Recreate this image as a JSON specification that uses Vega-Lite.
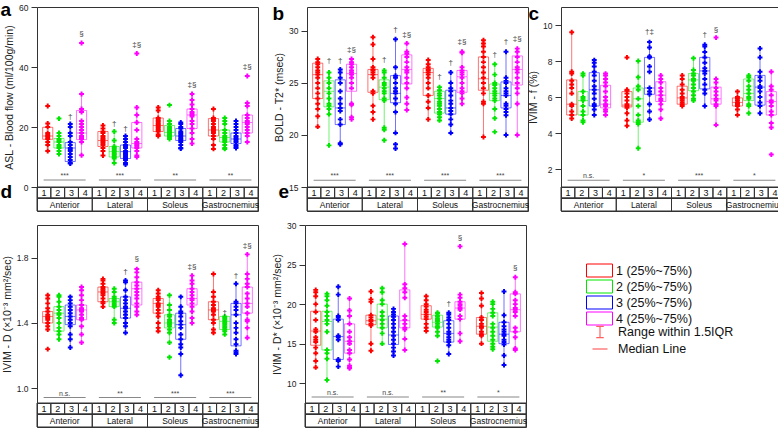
{
"$schema": "https://vega.github.io/schema/vega-lite/v6.json",
"padding": {"left": 0, "top": 0, "right": 0, "bottom": 0},
"config": {
  "font": "Liberation Sans",
  "view": {"stroke": "#333", "strokeWidth": 1},
  "axis": {"grid": false, "domain": false, "tickSize": 6, "tickColor": "#333", "labelFontSize": 8.5, "labelColor": "#222", "titleFontSize": 10.5, "titleFontWeight": "normal", "titleColor": "#222", "labelPadding": 3, "titlePadding": 4, "labelOverlap": false},
  "title": {"fontSize": 19, "fontWeight": "bold", "anchor": "start", "frame": "bounds", "color": "#000", "offset": -17}
},
"datasets": {
  "muscles": [{"m":"A","name":"Anterior"},{"m":"L","name":"Lateral"},{"m":"S","name":"Soleus"},{"m":"G","name":"Gastrocnemius"}],
  "cells": [{"m":"A","g":1,"k":"A1"},{"m":"A","g":2,"k":"A2"},{"m":"A","g":3,"k":"A3"},{"m":"A","g":4,"k":"A4"},{"m":"L","g":1,"k":"L1"},{"m":"L","g":2,"k":"L2"},{"m":"L","g":3,"k":"L3"},{"m":"L","g":4,"k":"L4"},{"m":"S","g":1,"k":"S1"},{"m":"S","g":2,"k":"S2"},{"m":"S","g":3,"k":"S3"},{"m":"S","g":4,"k":"S4"},{"m":"G","g":1,"k":"G1"},{"m":"G","g":2,"k":"G2"},{"m":"G","g":3,"k":"G3"},{"m":"G","g":4,"k":"G4"}],
  "box_a": [
    {"m":"A","g":1,"lo":12,"q1":15.9,"med":17,"q3":19.9,"hi":21.2},{"m":"A","g":2,"lo":11,"q1":13,"med":15,"q3":16.2,"hi":18},{"m":"A","g":3,"lo":7.8,"q1":8.5,"med":13,"q3":14.8,"hi":21},{"m":"A","g":4,"lo":10.6,"q1":15.8,"med":18,"q3":25.5,"hi":31},
    {"m":"L","g":1,"lo":10.5,"q1":13.5,"med":15.5,"q3":18.5,"hi":20.5},{"m":"L","g":2,"lo":8,"q1":10,"med":11.8,"q3":13.5,"hi":18.5},{"m":"L","g":3,"lo":7.5,"q1":9.5,"med":11.8,"q3":14,"hi":17},{"m":"L","g":4,"lo":10,"q1":13,"med":14.5,"q3":21.5,"hi":26.5},
    {"m":"S","g":1,"lo":17,"q1":18.5,"med":20.5,"q3":23,"hi":26.5},{"m":"S","g":2,"lo":16,"q1":17,"med":18.2,"q3":20.5,"hi":22},{"m":"S","g":3,"lo":12.8,"q1":15.5,"med":17,"q3":19.5,"hi":21.5},{"m":"S","g":4,"lo":14.5,"q1":19.5,"med":24,"q3":26,"hi":31},
    {"m":"G","g":1,"lo":12.7,"q1":17,"med":19,"q3":22.8,"hi":26},{"m":"G","g":2,"lo":12.7,"q1":15,"med":16.5,"q3":19,"hi":23},{"m":"G","g":3,"lo":13,"q1":14.5,"med":16,"q3":18,"hi":22},{"m":"G","g":4,"lo":15,"q1":18,"med":21.5,"q3":24,"hi":28}],
  "pts_a": [
    {"m":"A","g":1,"v":27},{"m":"A","g":1,"v":21.2},{"m":"A","g":1,"v":20},{"m":"A","g":1,"v":18},{"m":"A","g":1,"v":17.5},{"m":"A","g":1,"v":17},{"m":"A","g":1,"v":16.5},{"m":"A","g":1,"v":16},{"m":"A","g":1,"v":15},{"m":"A","g":1,"v":14},{"m":"A","g":1,"v":12},
    {"m":"A","g":2,"v":22.8},{"m":"A","g":2,"v":18},{"m":"A","g":2,"v":17},{"m":"A","g":2,"v":16},{"m":"A","g":2,"v":15.5},{"m":"A","g":2,"v":15},{"m":"A","g":2,"v":14},{"m":"A","g":2,"v":13.5},{"m":"A","g":2,"v":13},{"m":"A","g":2,"v":12},{"m":"A","g":2,"v":11},
    {"m":"A","g":3,"v":21},{"m":"A","g":3,"v":20},{"m":"A","g":3,"v":18},{"m":"A","g":3,"v":17},{"m":"A","g":3,"v":15},{"m":"A","g":3,"v":14},{"m":"A","g":3,"v":13},{"m":"A","g":3,"v":12.5},{"m":"A","g":3,"v":12},{"m":"A","g":3,"v":11},{"m":"A","g":3,"v":10},{"m":"A","g":3,"v":9},{"m":"A","g":3,"v":8},{"m":"A","g":3,"v":7.8},
    {"m":"A","g":4,"v":48},{"m":"A","g":4,"v":31},{"m":"A","g":4,"v":26},{"m":"A","g":4,"v":25},{"m":"A","g":4,"v":22},{"m":"A","g":4,"v":21},{"m":"A","g":4,"v":20},{"m":"A","g":4,"v":19},{"m":"A","g":4,"v":18},{"m":"A","g":4,"v":17},{"m":"A","g":4,"v":16.5},{"m":"A","g":4,"v":16},{"m":"A","g":4,"v":15},{"m":"A","g":4,"v":10.6},
    {"m":"L","g":1,"v":20.5},{"m":"L","g":1,"v":19.5},{"m":"L","g":1,"v":18.5},{"m":"L","g":1,"v":18},{"m":"L","g":1,"v":17},{"m":"L","g":1,"v":16.5},{"m":"L","g":1,"v":16},{"m":"L","g":1,"v":15.5},{"m":"L","g":1,"v":15},{"m":"L","g":1,"v":14.5},{"m":"L","g":1,"v":14},{"m":"L","g":1,"v":13},{"m":"L","g":1,"v":12},{"m":"L","g":1,"v":10.5},
    {"m":"L","g":2,"v":18.5},{"m":"L","g":2,"v":15.5},{"m":"L","g":2,"v":13.5},{"m":"L","g":2,"v":13},{"m":"L","g":2,"v":12.5},{"m":"L","g":2,"v":12},{"m":"L","g":2,"v":11.5},{"m":"L","g":2,"v":11},{"m":"L","g":2,"v":10.5},{"m":"L","g":2,"v":10},{"m":"L","g":2,"v":9.5},{"m":"L","g":2,"v":8},
    {"m":"L","g":3,"v":17},{"m":"L","g":3,"v":16},{"m":"L","g":3,"v":15},{"m":"L","g":3,"v":14},{"m":"L","g":3,"v":13.5},{"m":"L","g":3,"v":13},{"m":"L","g":3,"v":12},{"m":"L","g":3,"v":11.5},{"m":"L","g":3,"v":11},{"m":"L","g":3,"v":10.5},{"m":"L","g":3,"v":10},{"m":"L","g":3,"v":9.5},{"m":"L","g":3,"v":9},{"m":"L","g":3,"v":8},{"m":"L","g":3,"v":7.5},
    {"m":"L","g":4,"v":44.5},{"m":"L","g":4,"v":26.5},{"m":"L","g":4,"v":24},{"m":"L","g":4,"v":21.5},{"m":"L","g":4,"v":19},{"m":"L","g":4,"v":16},{"m":"L","g":4,"v":15},{"m":"L","g":4,"v":14.5},{"m":"L","g":4,"v":14},{"m":"L","g":4,"v":13.5},{"m":"L","g":4,"v":13},{"m":"L","g":4,"v":12},{"m":"L","g":4,"v":10.5},{"m":"L","g":4,"v":10},
    {"m":"S","g":1,"v":26.5},{"m":"S","g":1,"v":25.5},{"m":"S","g":1,"v":23},{"m":"S","g":1,"v":22.5},{"m":"S","g":1,"v":22},{"m":"S","g":1,"v":21.5},{"m":"S","g":1,"v":21},{"m":"S","g":1,"v":20.5},{"m":"S","g":1,"v":20},{"m":"S","g":1,"v":19.5},{"m":"S","g":1,"v":19},{"m":"S","g":1,"v":18.5},{"m":"S","g":1,"v":17.5},{"m":"S","g":1,"v":17},
    {"m":"S","g":2,"v":27.3},{"m":"S","g":2,"v":22},{"m":"S","g":2,"v":21},{"m":"S","g":2,"v":20},{"m":"S","g":2,"v":19.5},{"m":"S","g":2,"v":19},{"m":"S","g":2,"v":18.5},{"m":"S","g":2,"v":18},{"m":"S","g":2,"v":17.5},{"m":"S","g":2,"v":17},{"m":"S","g":2,"v":16.5},{"m":"S","g":2,"v":16},
    {"m":"S","g":3,"v":21.5},{"m":"S","g":3,"v":21},{"m":"S","g":3,"v":20},{"m":"S","g":3,"v":19.5},{"m":"S","g":3,"v":18.5},{"m":"S","g":3,"v":18},{"m":"S","g":3,"v":17.5},{"m":"S","g":3,"v":17},{"m":"S","g":3,"v":16.5},{"m":"S","g":3,"v":16},{"m":"S","g":3,"v":15.5},{"m":"S","g":3,"v":15},{"m":"S","g":3,"v":14},{"m":"S","g":3,"v":13},{"m":"S","g":3,"v":12.8},
    {"m":"S","g":4,"v":31},{"m":"S","g":4,"v":29},{"m":"S","g":4,"v":27.5},{"m":"S","g":4,"v":26},{"m":"S","g":4,"v":25},{"m":"S","g":4,"v":24.5},{"m":"S","g":4,"v":24},{"m":"S","g":4,"v":23.5},{"m":"S","g":4,"v":22},{"m":"S","g":4,"v":21},{"m":"S","g":4,"v":19.5},{"m":"S","g":4,"v":18},{"m":"S","g":4,"v":16},{"m":"S","g":4,"v":14.5},
    {"m":"G","g":1,"v":26},{"m":"G","g":1,"v":23},{"m":"G","g":1,"v":22.5},{"m":"G","g":1,"v":22},{"m":"G","g":1,"v":21},{"m":"G","g":1,"v":20},{"m":"G","g":1,"v":19.5},{"m":"G","g":1,"v":19},{"m":"G","g":1,"v":18.5},{"m":"G","g":1,"v":18},{"m":"G","g":1,"v":17},{"m":"G","g":1,"v":16},{"m":"G","g":1,"v":14},{"m":"G","g":1,"v":12.7},
    {"m":"G","g":2,"v":23},{"m":"G","g":2,"v":22},{"m":"G","g":2,"v":21},{"m":"G","g":2,"v":19},{"m":"G","g":2,"v":18},{"m":"G","g":2,"v":17},{"m":"G","g":2,"v":16.5},{"m":"G","g":2,"v":16},{"m":"G","g":2,"v":15.5},{"m":"G","g":2,"v":15},{"m":"G","g":2,"v":14},{"m":"G","g":2,"v":13},{"m":"G","g":2,"v":12.7},
    {"m":"G","g":3,"v":22},{"m":"G","g":3,"v":21},{"m":"G","g":3,"v":20},{"m":"G","g":3,"v":19},{"m":"G","g":3,"v":18},{"m":"G","g":3,"v":17},{"m":"G","g":3,"v":16.5},{"m":"G","g":3,"v":16},{"m":"G","g":3,"v":15.5},{"m":"G","g":3,"v":15},{"m":"G","g":3,"v":14},{"m":"G","g":3,"v":13.5},{"m":"G","g":3,"v":13},
    {"m":"G","g":4,"v":37},{"m":"G","g":4,"v":28},{"m":"G","g":4,"v":27},{"m":"G","g":4,"v":24},{"m":"G","g":4,"v":23},{"m":"G","g":4,"v":22},{"m":"G","g":4,"v":21.5},{"m":"G","g":4,"v":21},{"m":"G","g":4,"v":20},{"m":"G","g":4,"v":19},{"m":"G","g":4,"v":18},{"m":"G","g":4,"v":17},{"m":"G","g":4,"v":15}],
  "ann_a": [{"m":"A","g":3,"v":23.5,"t":"†"},{"m":"A","g":4,"v":51,"t":"§"},{"m":"L","g":2,"v":21,"t":"†"},{"m":"L","g":3,"v":19.3,"t":"†"},{"m":"L","g":4,"v":47.5,"t":"‡§"},{"m":"S","g":4,"v":33.9,"t":"‡§"},{"m":"G","g":4,"v":39.9,"t":"‡§"}],
  "sig_a": [{"m":"A","v":2.3,"t":"***"},{"m":"L","v":2.3,"t":"***"},{"m":"S","v":2.3,"t":"**"},{"m":"G","v":2.3,"t":"**"}],
  "box_b": [
    {"m":"A","g":1,"lo":20.8,"q1":23.5,"med":25.8,"q3":26.9,"hi":27.3},{"m":"A","g":2,"lo":19,"q1":22.7,"med":24.2,"q3":25.2,"hi":26},{"m":"A","g":3,"lo":19.1,"q1":21,"med":22.6,"q3":25.3,"hi":26.3},{"m":"A","g":4,"lo":21.5,"q1":24.2,"med":25.9,"q3":26.8,"hi":27.3},
    {"m":"L","g":1,"lo":21.5,"q1":24.1,"med":25.8,"q3":26.3,"hi":29.4},{"m":"L","g":2,"lo":20.5,"q1":23.4,"med":24.6,"q3":25.3,"hi":26.2},{"m":"L","g":3,"lo":20.2,"q1":23.1,"med":24,"q3":25.7,"hi":29.2},{"m":"L","g":4,"lo":22.4,"q1":24.9,"med":26.3,"q3":27.7,"hi":28.8},
    {"m":"S","g":1,"lo":21.5,"q1":23.8,"med":26,"q3":26.4,"hi":27.2},{"m":"S","g":2,"lo":21.4,"q1":22.1,"med":23.5,"q3":24.2,"hi":24.6},{"m":"S","g":3,"lo":20.2,"q1":22,"med":22.6,"q3":24.3,"hi":26},{"m":"S","g":4,"lo":23,"q1":24.1,"med":25.6,"q3":26.2,"hi":28},
    {"m":"G","g":1,"lo":19.8,"q1":24.3,"med":25.4,"q3":27.5,"hi":29.1},{"m":"G","g":2,"lo":21.6,"q1":23.3,"med":24,"q3":24.9,"hi":26.8},{"m":"G","g":3,"lo":20,"q1":22.6,"med":23.8,"q3":25.1,"hi":28},{"m":"G","g":4,"lo":20,"q1":24.8,"med":26.3,"q3":27.6,"hi":28.3}],
  "pts_b": [
    {"m":"A","g":1,"v":27.3},{"m":"A","g":1,"v":27},{"m":"A","g":1,"v":26.8},{"m":"A","g":1,"v":26.5},{"m":"A","g":1,"v":26.2},{"m":"A","g":1,"v":26},{"m":"A","g":1,"v":25.8},{"m":"A","g":1,"v":25.5},{"m":"A","g":1,"v":25},{"m":"A","g":1,"v":24.5},{"m":"A","g":1,"v":24},{"m":"A","g":1,"v":23.5},{"m":"A","g":1,"v":23},{"m":"A","g":1,"v":22.5},{"m":"A","g":1,"v":21.8},{"m":"A","g":1,"v":20.8},
    {"m":"A","g":2,"v":26},{"m":"A","g":2,"v":25.5},{"m":"A","g":2,"v":25},{"m":"A","g":2,"v":24.5},{"m":"A","g":2,"v":24},{"m":"A","g":2,"v":23.5},{"m":"A","g":2,"v":23},{"m":"A","g":2,"v":22.8},{"m":"A","g":2,"v":22.5},{"m":"A","g":2,"v":22},{"m":"A","g":2,"v":19},
    {"m":"A","g":3,"v":26.3},{"m":"A","g":3,"v":26},{"m":"A","g":3,"v":25.5},{"m":"A","g":3,"v":25},{"m":"A","g":3,"v":24.2},{"m":"A","g":3,"v":23.5},{"m":"A","g":3,"v":23},{"m":"A","g":3,"v":22.6},{"m":"A","g":3,"v":22.3},{"m":"A","g":3,"v":21.5},{"m":"A","g":3,"v":21},{"m":"A","g":3,"v":19.2},{"m":"A","g":3,"v":19.1},
    {"m":"A","g":4,"v":27.3},{"m":"A","g":4,"v":27},{"m":"A","g":4,"v":26.8},{"m":"A","g":4,"v":26.5},{"m":"A","g":4,"v":26.2},{"m":"A","g":4,"v":26},{"m":"A","g":4,"v":25.8},{"m":"A","g":4,"v":25.5},{"m":"A","g":4,"v":25},{"m":"A","g":4,"v":24.5},{"m":"A","g":4,"v":23},{"m":"A","g":4,"v":22.9},{"m":"A","g":4,"v":21.7},{"m":"A","g":4,"v":21.5},
    {"m":"L","g":1,"v":29.4},{"m":"L","g":1,"v":28.7},{"m":"L","g":1,"v":27.3},{"m":"L","g":1,"v":26.5},{"m":"L","g":1,"v":26.3},{"m":"L","g":1,"v":26.2},{"m":"L","g":1,"v":26},{"m":"L","g":1,"v":25.8},{"m":"L","g":1,"v":25.5},{"m":"L","g":1,"v":24.2},{"m":"L","g":1,"v":24},{"m":"L","g":1,"v":22.8},{"m":"L","g":1,"v":22.2},{"m":"L","g":1,"v":21.5},
    {"m":"L","g":2,"v":26.2},{"m":"L","g":2,"v":26},{"m":"L","g":2,"v":25.5},{"m":"L","g":2,"v":25},{"m":"L","g":2,"v":24.8},{"m":"L","g":2,"v":24.5},{"m":"L","g":2,"v":24.2},{"m":"L","g":2,"v":24},{"m":"L","g":2,"v":23.5},{"m":"L","g":2,"v":23.3},{"m":"L","g":2,"v":20.7},{"m":"L","g":2,"v":20.5},{"m":"L","g":2,"v":19.5},
    {"m":"L","g":3,"v":29.2},{"m":"L","g":3,"v":26.5},{"m":"L","g":3,"v":25.7},{"m":"L","g":3,"v":25.5},{"m":"L","g":3,"v":25},{"m":"L","g":3,"v":24.5},{"m":"L","g":3,"v":24.2},{"m":"L","g":3,"v":24},{"m":"L","g":3,"v":23.5},{"m":"L","g":3,"v":23},{"m":"L","g":3,"v":22.2},{"m":"L","g":3,"v":20.2},{"m":"L","g":3,"v":19.1},{"m":"L","g":3,"v":18.7},
    {"m":"L","g":4,"v":28.8},{"m":"L","g":4,"v":28},{"m":"L","g":4,"v":27.8},{"m":"L","g":4,"v":27.5},{"m":"L","g":4,"v":27},{"m":"L","g":4,"v":26.5},{"m":"L","g":4,"v":26.2},{"m":"L","g":4,"v":26},{"m":"L","g":4,"v":25.5},{"m":"L","g":4,"v":25},{"m":"L","g":4,"v":24.5},{"m":"L","g":4,"v":23.6},{"m":"L","g":4,"v":23},{"m":"L","g":4,"v":22.4},
    {"m":"S","g":1,"v":27.2},{"m":"S","g":1,"v":26.8},{"m":"S","g":1,"v":26.5},{"m":"S","g":1,"v":26.3},{"m":"S","g":1,"v":26.2},{"m":"S","g":1,"v":26},{"m":"S","g":1,"v":25.8},{"m":"S","g":1,"v":25.5},{"m":"S","g":1,"v":25},{"m":"S","g":1,"v":24.5},{"m":"S","g":1,"v":23.8},{"m":"S","g":1,"v":23.2},{"m":"S","g":1,"v":22.6},{"m":"S","g":1,"v":21.5},
    {"m":"S","g":2,"v":24.6},{"m":"S","g":2,"v":24.3},{"m":"S","g":2,"v":24},{"m":"S","g":2,"v":23.8},{"m":"S","g":2,"v":23.5},{"m":"S","g":2,"v":23.2},{"m":"S","g":2,"v":23},{"m":"S","g":2,"v":22.8},{"m":"S","g":2,"v":22.5},{"m":"S","g":2,"v":22.2},{"m":"S","g":2,"v":22},{"m":"S","g":2,"v":21.7},{"m":"S","g":2,"v":21.4},
    {"m":"S","g":3,"v":26},{"m":"S","g":3,"v":25},{"m":"S","g":3,"v":24.5},{"m":"S","g":3,"v":24.2},{"m":"S","g":3,"v":23.8},{"m":"S","g":3,"v":23.3},{"m":"S","g":3,"v":23},{"m":"S","g":3,"v":22.6},{"m":"S","g":3,"v":22.3},{"m":"S","g":3,"v":22},{"m":"S","g":3,"v":21.5},{"m":"S","g":3,"v":21},{"m":"S","g":3,"v":20.2},
    {"m":"S","g":4,"v":28},{"m":"S","g":4,"v":27.9},{"m":"S","g":4,"v":26.5},{"m":"S","g":4,"v":26.2},{"m":"S","g":4,"v":26},{"m":"S","g":4,"v":25.8},{"m":"S","g":4,"v":25.5},{"m":"S","g":4,"v":25},{"m":"S","g":4,"v":24.5},{"m":"S","g":4,"v":24.2},{"m":"S","g":4,"v":24},{"m":"S","g":4,"v":23.5},{"m":"S","g":4,"v":23},
    {"m":"G","g":1,"v":29.1},{"m":"G","g":1,"v":28.8},{"m":"G","g":1,"v":28.5},{"m":"G","g":1,"v":28},{"m":"G","g":1,"v":27.5},{"m":"G","g":1,"v":27},{"m":"G","g":1,"v":26.5},{"m":"G","g":1,"v":26},{"m":"G","g":1,"v":25.5},{"m":"G","g":1,"v":25},{"m":"G","g":1,"v":24.5},{"m":"G","g":1,"v":24},{"m":"G","g":1,"v":23.2},{"m":"G","g":1,"v":23},{"m":"G","g":1,"v":19.8},
    {"m":"G","g":2,"v":26.8},{"m":"G","g":2,"v":25.8},{"m":"G","g":2,"v":25},{"m":"G","g":2,"v":24.8},{"m":"G","g":2,"v":24.5},{"m":"G","g":2,"v":24.2},{"m":"G","g":2,"v":24},{"m":"G","g":2,"v":23.8},{"m":"G","g":2,"v":23.5},{"m":"G","g":2,"v":23.3},{"m":"G","g":2,"v":22.5},{"m":"G","g":2,"v":21.6},{"m":"G","g":2,"v":20.3},
    {"m":"G","g":3,"v":28},{"m":"G","g":3,"v":25.5},{"m":"G","g":3,"v":25.2},{"m":"G","g":3,"v":25},{"m":"G","g":3,"v":24.5},{"m":"G","g":3,"v":24.2},{"m":"G","g":3,"v":24},{"m":"G","g":3,"v":23.8},{"m":"G","g":3,"v":23},{"m":"G","g":3,"v":22.8},{"m":"G","g":3,"v":22.5},{"m":"G","g":3,"v":22.2},{"m":"G","g":3,"v":21.9},{"m":"G","g":3,"v":20},
    {"m":"G","g":4,"v":28.3},{"m":"G","g":4,"v":28},{"m":"G","g":4,"v":27.5},{"m":"G","g":4,"v":27},{"m":"G","g":4,"v":26.5},{"m":"G","g":4,"v":26.3},{"m":"G","g":4,"v":26},{"m":"G","g":4,"v":25.5},{"m":"G","g":4,"v":25},{"m":"G","g":4,"v":24.5},{"m":"G","g":4,"v":24},{"m":"G","g":4,"v":23},{"m":"G","g":4,"v":20}],
  "ann_b": [{"m":"A","g":2,"v":27.1,"t":"†"},{"m":"A","g":3,"v":27.1,"t":"†"},{"m":"A","g":4,"v":28.2,"t":"‡§"},{"m":"L","g":2,"v":27.2,"t":"†"},{"m":"L","g":3,"v":30.1,"t":"†"},{"m":"L","g":4,"v":29.6,"t":"‡§"},{"m":"S","g":2,"v":25.6,"t":"†"},{"m":"S","g":3,"v":26.9,"t":"†"},{"m":"S","g":4,"v":28.9,"t":"‡§"},{"m":"G","g":2,"v":27.7,"t":"†"},{"m":"G","g":3,"v":28.9,"t":"†"},{"m":"G","g":4,"v":29.2,"t":"‡§"}],
  "sig_b": [{"m":"A","v":15.65,"t":"***"},{"m":"L","v":15.65,"t":"***"},{"m":"S","v":15.65,"t":"***"},{"m":"G","v":15.65,"t":"***"}],
  "box_c": [
    {"m":"A","g":1,"lo":4.8,"q1":5,"med":5.6,"q3":6.95,"hi":9.6},{"m":"A","g":2,"lo":4.6,"q1":5,"med":5.8,"q3":6.3,"hi":7.3},{"m":"A","g":3,"lo":5,"q1":5.5,"med":6.4,"q3":7.35,"hi":8.05},{"m":"A","g":4,"lo":5,"q1":5.4,"med":5.6,"q3":6.65,"hi":7.3},
    {"m":"L","g":1,"lo":4.4,"q1":5.45,"med":5.55,"q3":6.3,"hi":6.4},{"m":"L","g":2,"lo":3.15,"q1":4.6,"med":5.9,"q3":6.5,"hi":8},{"m":"L","g":3,"lo":4.75,"q1":6.15,"med":6.5,"q3":8.2,"hi":9.05},{"m":"L","g":4,"lo":4.8,"q1":5.75,"med":6.1,"q3":6.85,"hi":7.2},
    {"m":"S","g":1,"lo":5.5,"q1":5.6,"med":5.95,"q3":6.6,"hi":7.2},{"m":"S","g":2,"lo":5.8,"q1":6.35,"med":6.95,"q3":7.3,"hi":8.15},{"m":"S","g":3,"lo":5.5,"q1":6.45,"med":7.45,"q3":8.2,"hi":8.9},{"m":"S","g":4,"lo":4.45,"q1":5.6,"med":5.9,"q3":6.55,"hi":7},
    {"m":"G","g":1,"lo":5,"q1":5.5,"med":5.7,"q3":5.95,"hi":6.3},{"m":"G","g":2,"lo":5.1,"q1":5.8,"med":6.2,"q3":7,"hi":7.2},{"m":"G","g":3,"lo":5.1,"q1":5.55,"med":6.55,"q3":7.2,"hi":8.7},{"m":"G","g":4,"lo":4.3,"q1":5,"med":5.75,"q3":6.3,"hi":7.4}],
  "pts_c": [
    {"m":"A","g":1,"v":9.6},{"m":"A","g":1,"v":7.4},{"m":"A","g":1,"v":7.3},{"m":"A","g":1,"v":6.9},{"m":"A","g":1,"v":6.7},{"m":"A","g":1,"v":6.5},{"m":"A","g":1,"v":6.2},{"m":"A","g":1,"v":5.6},{"m":"A","g":1,"v":5.5},{"m":"A","g":1,"v":5.2},{"m":"A","g":1,"v":5},{"m":"A","g":1,"v":4.8},
    {"m":"A","g":2,"v":7.3},{"m":"A","g":2,"v":7.2},{"m":"A","g":2,"v":6.3},{"m":"A","g":2,"v":6},{"m":"A","g":2,"v":5.9},{"m":"A","g":2,"v":5.8},{"m":"A","g":2,"v":5.5},{"m":"A","g":2,"v":5.2},{"m":"A","g":2,"v":5},{"m":"A","g":2,"v":4.7},{"m":"A","g":2,"v":4.6},
    {"m":"A","g":3,"v":8.05},{"m":"A","g":3,"v":7.9},{"m":"A","g":3,"v":7.7},{"m":"A","g":3,"v":7.4},{"m":"A","g":3,"v":7.2},{"m":"A","g":3,"v":6.9},{"m":"A","g":3,"v":6.6},{"m":"A","g":3,"v":6.4},{"m":"A","g":3,"v":6.2},{"m":"A","g":3,"v":5.9},{"m":"A","g":3,"v":5.6},{"m":"A","g":3,"v":5.5},{"m":"A","g":3,"v":5.3},{"m":"A","g":3,"v":5},
    {"m":"A","g":4,"v":7.3},{"m":"A","g":4,"v":7.2},{"m":"A","g":4,"v":7},{"m":"A","g":4,"v":6.8},{"m":"A","g":4,"v":6.6},{"m":"A","g":4,"v":6.3},{"m":"A","g":4,"v":6},{"m":"A","g":4,"v":5.8},{"m":"A","g":4,"v":5.6},{"m":"A","g":4,"v":5.5},{"m":"A","g":4,"v":5.3},{"m":"A","g":4,"v":5.2},{"m":"A","g":4,"v":5},
    {"m":"L","g":1,"v":8.2},{"m":"L","g":1,"v":6.4},{"m":"L","g":1,"v":6.35},{"m":"L","g":1,"v":6.2},{"m":"L","g":1,"v":6},{"m":"L","g":1,"v":5.8},{"m":"L","g":1,"v":5.6},{"m":"L","g":1,"v":5.5},{"m":"L","g":1,"v":5.4},{"m":"L","g":1,"v":5.1},{"m":"L","g":1,"v":4.7},{"m":"L","g":1,"v":4.4},
    {"m":"L","g":2,"v":8},{"m":"L","g":2,"v":7.1},{"m":"L","g":2,"v":6.6},{"m":"L","g":2,"v":6.4},{"m":"L","g":2,"v":5.9},{"m":"L","g":2,"v":5.5},{"m":"L","g":2,"v":5},{"m":"L","g":2,"v":4.7},{"m":"L","g":2,"v":4.6},{"m":"L","g":2,"v":4.5},{"m":"L","g":2,"v":3.15},
    {"m":"L","g":3,"v":9.05},{"m":"L","g":3,"v":8.75},{"m":"L","g":3,"v":8.25},{"m":"L","g":3,"v":8.2},{"m":"L","g":3,"v":7.7},{"m":"L","g":3,"v":7.4},{"m":"L","g":3,"v":6.5},{"m":"L","g":3,"v":6.3},{"m":"L","g":3,"v":6.15},{"m":"L","g":3,"v":5.6},{"m":"L","g":3,"v":5.2},{"m":"L","g":3,"v":4.75},
    {"m":"L","g":4,"v":7.2},{"m":"L","g":4,"v":7},{"m":"L","g":4,"v":6.8},{"m":"L","g":4,"v":6.5},{"m":"L","g":4,"v":6.3},{"m":"L","g":4,"v":6.1},{"m":"L","g":4,"v":5.9},{"m":"L","g":4,"v":5.8},{"m":"L","g":4,"v":5.6},{"m":"L","g":4,"v":5.3},{"m":"L","g":4,"v":4.8},
    {"m":"S","g":1,"v":7.2},{"m":"S","g":1,"v":7},{"m":"S","g":1,"v":6.7},{"m":"S","g":1,"v":6.4},{"m":"S","g":1,"v":6.2},{"m":"S","g":1,"v":6},{"m":"S","g":1,"v":5.9},{"m":"S","g":1,"v":5.8},{"m":"S","g":1,"v":5.7},{"m":"S","g":1,"v":5.6},{"m":"S","g":1,"v":5.5},
    {"m":"S","g":2,"v":8.15},{"m":"S","g":2,"v":7.5},{"m":"S","g":2,"v":7.3},{"m":"S","g":2,"v":7.2},{"m":"S","g":2,"v":7},{"m":"S","g":2,"v":6.9},{"m":"S","g":2,"v":6.7},{"m":"S","g":2,"v":6.5},{"m":"S","g":2,"v":6.3},{"m":"S","g":2,"v":6.1},{"m":"S","g":2,"v":5.9},{"m":"S","g":2,"v":5.8},
    {"m":"S","g":3,"v":8.9},{"m":"S","g":3,"v":8.8},{"m":"S","g":3,"v":8.5},{"m":"S","g":3,"v":8.2},{"m":"S","g":3,"v":7.9},{"m":"S","g":3,"v":7.6},{"m":"S","g":3,"v":7.45},{"m":"S","g":3,"v":7.3},{"m":"S","g":3,"v":7},{"m":"S","g":3,"v":6.7},{"m":"S","g":3,"v":6.4},{"m":"S","g":3,"v":6.2},{"m":"S","g":3,"v":5.5},
    {"m":"S","g":4,"v":9.3},{"m":"S","g":4,"v":7},{"m":"S","g":4,"v":6.8},{"m":"S","g":4,"v":6.5},{"m":"S","g":4,"v":6.3},{"m":"S","g":4,"v":6.1},{"m":"S","g":4,"v":5.9},{"m":"S","g":4,"v":5.8},{"m":"S","g":4,"v":5.6},{"m":"S","g":4,"v":5.5},{"m":"S","g":4,"v":4.45},
    {"m":"G","g":1,"v":6.3},{"m":"G","g":1,"v":6},{"m":"G","g":1,"v":5.9},{"m":"G","g":1,"v":5.8},{"m":"G","g":1,"v":5.7},{"m":"G","g":1,"v":5.65},{"m":"G","g":1,"v":5.6},{"m":"G","g":1,"v":5.5},{"m":"G","g":1,"v":5.3},{"m":"G","g":1,"v":5},
    {"m":"G","g":2,"v":7.2},{"m":"G","g":2,"v":7.1},{"m":"G","g":2,"v":6.9},{"m":"G","g":2,"v":6.6},{"m":"G","g":2,"v":6.4},{"m":"G","g":2,"v":6.2},{"m":"G","g":2,"v":6},{"m":"G","g":2,"v":5.9},{"m":"G","g":2,"v":5.6},{"m":"G","g":2,"v":5.5},{"m":"G","g":2,"v":5.1},
    {"m":"G","g":3,"v":8.7},{"m":"G","g":3,"v":8.2},{"m":"G","g":3,"v":7.4},{"m":"G","g":3,"v":7.1},{"m":"G","g":3,"v":6.9},{"m":"G","g":3,"v":6.6},{"m":"G","g":3,"v":6.5},{"m":"G","g":3,"v":6.3},{"m":"G","g":3,"v":6},{"m":"G","g":3,"v":5.7},{"m":"G","g":3,"v":5.5},{"m":"G","g":3,"v":5.1},
    {"m":"G","g":4,"v":7.4},{"m":"G","g":4,"v":6.6},{"m":"G","g":4,"v":6.4},{"m":"G","g":4,"v":6.1},{"m":"G","g":4,"v":5.8},{"m":"G","g":4,"v":5.7},{"m":"G","g":4,"v":5.5},{"m":"G","g":4,"v":5.2},{"m":"G","g":4,"v":5},{"m":"G","g":4,"v":4.55},{"m":"G","g":4,"v":4.3},{"m":"G","g":4,"v":2.8}],
  "ann_c": [{"m":"L","g":3,"v":9.6,"t":"†‡"},{"m":"S","g":3,"v":9.45,"t":"†"},{"m":"S","g":4,"v":9.75,"t":"§"}],
  "sig_c": [{"m":"A","v":1.37,"t":"n.s."},{"m":"L","v":1.37,"t":"*"},{"m":"S","v":1.37,"t":"***"},{"m":"G","v":1.37,"t":"*"}],
  "box_d": [
    {"m":"A","g":1,"lo":1.36,"q1":1.4,"med":1.44,"q3":1.47,"hi":1.57},{"m":"A","g":2,"lo":1.3,"q1":1.35,"med":1.46,"q3":1.5,"hi":1.57},{"m":"A","g":3,"lo":1.25,"q1":1.39,"med":1.44,"q3":1.51,"hi":1.56},{"m":"A","g":4,"lo":1.28,"q1":1.42,"med":1.48,"q3":1.51,"hi":1.62},
    {"m":"L","g":1,"lo":1.5,"q1":1.53,"med":1.59,"q3":1.62,"hi":1.67},{"m":"L","g":2,"lo":1.42,"q1":1.5,"med":1.53,"q3":1.55,"hi":1.61},{"m":"L","g":3,"lo":1.34,"q1":1.43,"med":1.49,"q3":1.56,"hi":1.66},{"m":"L","g":4,"lo":1.45,"q1":1.51,"med":1.61,"q3":1.65,"hi":1.73},
    {"m":"S","g":1,"lo":1.35,"q1":1.46,"med":1.52,"q3":1.55,"hi":1.6},{"m":"S","g":2,"lo":1.28,"q1":1.37,"med":1.4,"q3":1.45,"hi":1.57},{"m":"S","g":3,"lo":1.08,"q1":1.3,"med":1.39,"q3":1.46,"hi":1.56},{"m":"S","g":4,"lo":1.4,"q1":1.51,"med":1.55,"q3":1.61,"hi":1.69},
    {"m":"G","g":1,"lo":1.34,"q1":1.42,"med":1.48,"q3":1.53,"hi":1.7},{"m":"G","g":2,"lo":1.33,"q1":1.36,"med":1.41,"q3":1.44,"hi":1.44},{"m":"G","g":3,"lo":1.21,"q1":1.26,"med":1.45,"q3":1.52,"hi":1.64},{"m":"G","g":4,"lo":1.31,"q1":1.46,"med":1.52,"q3":1.62,"hi":1.82}],
  "pts_d": [
    {"m":"A","g":1,"v":1.57},{"m":"A","g":1,"v":1.55},{"m":"A","g":1,"v":1.52},{"m":"A","g":1,"v":1.49},{"m":"A","g":1,"v":1.47},{"m":"A","g":1,"v":1.45},{"m":"A","g":1,"v":1.44},{"m":"A","g":1,"v":1.43},{"m":"A","g":1,"v":1.42},{"m":"A","g":1,"v":1.4},{"m":"A","g":1,"v":1.38},{"m":"A","g":1,"v":1.36},{"m":"A","g":1,"v":1.24},
    {"m":"A","g":2,"v":1.57},{"m":"A","g":2,"v":1.56},{"m":"A","g":2,"v":1.53},{"m":"A","g":2,"v":1.5},{"m":"A","g":2,"v":1.48},{"m":"A","g":2,"v":1.46},{"m":"A","g":2,"v":1.45},{"m":"A","g":2,"v":1.43},{"m":"A","g":2,"v":1.4},{"m":"A","g":2,"v":1.37},{"m":"A","g":2,"v":1.35},{"m":"A","g":2,"v":1.33},{"m":"A","g":2,"v":1.3},
    {"m":"A","g":3,"v":1.56},{"m":"A","g":3,"v":1.54},{"m":"A","g":3,"v":1.52},{"m":"A","g":3,"v":1.5},{"m":"A","g":3,"v":1.48},{"m":"A","g":3,"v":1.46},{"m":"A","g":3,"v":1.44},{"m":"A","g":3,"v":1.42},{"m":"A","g":3,"v":1.4},{"m":"A","g":3,"v":1.38},{"m":"A","g":3,"v":1.33},{"m":"A","g":3,"v":1.3},{"m":"A","g":3,"v":1.25},
    {"m":"A","g":4,"v":1.62},{"m":"A","g":4,"v":1.6},{"m":"A","g":4,"v":1.57},{"m":"A","g":4,"v":1.54},{"m":"A","g":4,"v":1.51},{"m":"A","g":4,"v":1.49},{"m":"A","g":4,"v":1.48},{"m":"A","g":4,"v":1.47},{"m":"A","g":4,"v":1.45},{"m":"A","g":4,"v":1.43},{"m":"A","g":4,"v":1.42},{"m":"A","g":4,"v":1.38},{"m":"A","g":4,"v":1.33},{"m":"A","g":4,"v":1.28},
    {"m":"L","g":1,"v":1.67},{"m":"L","g":1,"v":1.66},{"m":"L","g":1,"v":1.64},{"m":"L","g":1,"v":1.62},{"m":"L","g":1,"v":1.61},{"m":"L","g":1,"v":1.6},{"m":"L","g":1,"v":1.59},{"m":"L","g":1,"v":1.58},{"m":"L","g":1,"v":1.57},{"m":"L","g":1,"v":1.55},{"m":"L","g":1,"v":1.53},{"m":"L","g":1,"v":1.52},{"m":"L","g":1,"v":1.5},
    {"m":"L","g":2,"v":1.61},{"m":"L","g":2,"v":1.59},{"m":"L","g":2,"v":1.56},{"m":"L","g":2,"v":1.55},{"m":"L","g":2,"v":1.54},{"m":"L","g":2,"v":1.53},{"m":"L","g":2,"v":1.52},{"m":"L","g":2,"v":1.51},{"m":"L","g":2,"v":1.5},{"m":"L","g":2,"v":1.42},{"m":"L","g":2,"v":1.4},
    {"m":"L","g":3,"v":1.66},{"m":"L","g":3,"v":1.65},{"m":"L","g":3,"v":1.6},{"m":"L","g":3,"v":1.56},{"m":"L","g":3,"v":1.54},{"m":"L","g":3,"v":1.52},{"m":"L","g":3,"v":1.5},{"m":"L","g":3,"v":1.49},{"m":"L","g":3,"v":1.47},{"m":"L","g":3,"v":1.45},{"m":"L","g":3,"v":1.43},{"m":"L","g":3,"v":1.4},{"m":"L","g":3,"v":1.38},{"m":"L","g":3,"v":1.34},
    {"m":"L","g":4,"v":1.73},{"m":"L","g":4,"v":1.71},{"m":"L","g":4,"v":1.68},{"m":"L","g":4,"v":1.65},{"m":"L","g":4,"v":1.63},{"m":"L","g":4,"v":1.61},{"m":"L","g":4,"v":1.59},{"m":"L","g":4,"v":1.57},{"m":"L","g":4,"v":1.55},{"m":"L","g":4,"v":1.52},{"m":"L","g":4,"v":1.5},{"m":"L","g":4,"v":1.47},{"m":"L","g":4,"v":1.45},
    {"m":"S","g":1,"v":1.6},{"m":"S","g":1,"v":1.58},{"m":"S","g":1,"v":1.56},{"m":"S","g":1,"v":1.55},{"m":"S","g":1,"v":1.54},{"m":"S","g":1,"v":1.52},{"m":"S","g":1,"v":1.51},{"m":"S","g":1,"v":1.5},{"m":"S","g":1,"v":1.48},{"m":"S","g":1,"v":1.46},{"m":"S","g":1,"v":1.44},{"m":"S","g":1,"v":1.4},{"m":"S","g":1,"v":1.37},{"m":"S","g":1,"v":1.35},
    {"m":"S","g":2,"v":1.57},{"m":"S","g":2,"v":1.51},{"m":"S","g":2,"v":1.48},{"m":"S","g":2,"v":1.45},{"m":"S","g":2,"v":1.44},{"m":"S","g":2,"v":1.42},{"m":"S","g":2,"v":1.41},{"m":"S","g":2,"v":1.4},{"m":"S","g":2,"v":1.39},{"m":"S","g":2,"v":1.38},{"m":"S","g":2,"v":1.36},{"m":"S","g":2,"v":1.34},{"m":"S","g":2,"v":1.28},{"m":"S","g":2,"v":1.19},
    {"m":"S","g":3,"v":1.56},{"m":"S","g":3,"v":1.5},{"m":"S","g":3,"v":1.47},{"m":"S","g":3,"v":1.46},{"m":"S","g":3,"v":1.44},{"m":"S","g":3,"v":1.41},{"m":"S","g":3,"v":1.39},{"m":"S","g":3,"v":1.37},{"m":"S","g":3,"v":1.33},{"m":"S","g":3,"v":1.3},{"m":"S","g":3,"v":1.27},{"m":"S","g":3,"v":1.25},{"m":"S","g":3,"v":1.21},{"m":"S","g":3,"v":1.08},
    {"m":"S","g":4,"v":1.69},{"m":"S","g":4,"v":1.66},{"m":"S","g":4,"v":1.64},{"m":"S","g":4,"v":1.61},{"m":"S","g":4,"v":1.59},{"m":"S","g":4,"v":1.57},{"m":"S","g":4,"v":1.55},{"m":"S","g":4,"v":1.54},{"m":"S","g":4,"v":1.52},{"m":"S","g":4,"v":1.5},{"m":"S","g":4,"v":1.47},{"m":"S","g":4,"v":1.43},{"m":"S","g":4,"v":1.4},
    {"m":"G","g":1,"v":1.7},{"m":"G","g":1,"v":1.59},{"m":"G","g":1,"v":1.56},{"m":"G","g":1,"v":1.53},{"m":"G","g":1,"v":1.51},{"m":"G","g":1,"v":1.49},{"m":"G","g":1,"v":1.48},{"m":"G","g":1,"v":1.47},{"m":"G","g":1,"v":1.45},{"m":"G","g":1,"v":1.42},{"m":"G","g":1,"v":1.4},{"m":"G","g":1,"v":1.36},{"m":"G","g":1,"v":1.34},
    {"m":"G","g":2,"v":1.44},{"m":"G","g":2,"v":1.43},{"m":"G","g":2,"v":1.42},{"m":"G","g":2,"v":1.41},{"m":"G","g":2,"v":1.4},{"m":"G","g":2,"v":1.39},{"m":"G","g":2,"v":1.38},{"m":"G","g":2,"v":1.37},{"m":"G","g":2,"v":1.36},{"m":"G","g":2,"v":1.35},{"m":"G","g":2,"v":1.33},
    {"m":"G","g":3,"v":1.64},{"m":"G","g":3,"v":1.53},{"m":"G","g":3,"v":1.52},{"m":"G","g":3,"v":1.5},{"m":"G","g":3,"v":1.48},{"m":"G","g":3,"v":1.45},{"m":"G","g":3,"v":1.4},{"m":"G","g":3,"v":1.37},{"m":"G","g":3,"v":1.34},{"m":"G","g":3,"v":1.3},{"m":"G","g":3,"v":1.27},{"m":"G","g":3,"v":1.23},{"m":"G","g":3,"v":1.22},{"m":"G","g":3,"v":1.21},
    {"m":"G","g":4,"v":1.82},{"m":"G","g":4,"v":1.7},{"m":"G","g":4,"v":1.67},{"m":"G","g":4,"v":1.64},{"m":"G","g":4,"v":1.62},{"m":"G","g":4,"v":1.58},{"m":"G","g":4,"v":1.55},{"m":"G","g":4,"v":1.52},{"m":"G","g":4,"v":1.5},{"m":"G","g":4,"v":1.46},{"m":"G","g":4,"v":1.42},{"m":"G","g":4,"v":1.41},{"m":"G","g":4,"v":1.37},{"m":"G","g":4,"v":1.31}],
  "ann_d": [{"m":"L","g":3,"v":1.71,"t":"†"},{"m":"L","g":4,"v":1.79,"t":"§"},{"m":"S","g":4,"v":1.74,"t":"‡§"},{"m":"G","g":2,"v":1.46,"t":"†"},{"m":"G","g":3,"v":1.69,"t":"†"},{"m":"G","g":4,"v":1.87,"t":"‡§"}],
  "sig_d": [{"m":"A","v":0.943,"t":"n.s."},{"m":"L","v":0.943,"t":"**"},{"m":"S","v":0.943,"t":"***"},{"m":"G","v":0.943,"t":"***"}],
  "box_e": [
    {"m":"A","g":1,"lo":12,"q1":14.8,"med":16.6,"q3":19.1,"hi":21.8},{"m":"A","g":2,"lo":10.4,"q1":14.2,"med":17.8,"q3":19.1,"hi":21.3},{"m":"A","g":3,"lo":12.1,"q1":13,"med":15.9,"q3":18.1,"hi":22.2},{"m":"A","g":4,"lo":11.9,"q1":13.8,"med":15.3,"q3":17.5,"hi":20.7},
    {"m":"L","g":1,"lo":14.1,"q1":17.4,"med":17.9,"q3":18.6,"hi":21.6},{"m":"L","g":2,"lo":15,"q1":17,"med":18.1,"q3":20,"hi":22},{"m":"L","g":3,"lo":13.5,"q1":14.9,"med":16.1,"q3":18.5,"hi":19.4},{"m":"L","g":4,"lo":14.2,"q1":17,"med":17.9,"q3":21.8,"hi":27.6},
    {"m":"S","g":1,"lo":16.6,"q1":18.1,"med":18.7,"q3":19.8,"hi":21},{"m":"S","g":2,"lo":16,"q1":17.1,"med":17.7,"q3":18.6,"hi":18.9},{"m":"S","g":3,"lo":13.7,"q1":15.2,"med":16.3,"q3":17.9,"hi":18.9},{"m":"S","g":4,"lo":15.3,"q1":18.1,"med":19.5,"q3":20.3,"hi":21.2},
    {"m":"G","g":1,"lo":15,"q1":16.2,"med":17.2,"q3":18.3,"hi":21.4},{"m":"G","g":2,"lo":14.3,"q1":15.3,"med":17.1,"q3":18.9,"hi":20.3},{"m":"G","g":3,"lo":12.3,"q1":15,"med":16.2,"q3":17.7,"hi":21.6},{"m":"G","g":4,"lo":14.2,"q1":16.5,"med":19.3,"q3":21.3,"hi":23.4}],
  "pts_e": [
    {"m":"A","g":1,"v":21.8},{"m":"A","g":1,"v":21.5},{"m":"A","g":1,"v":21},{"m":"A","g":1,"v":20},{"m":"A","g":1,"v":19},{"m":"A","g":1,"v":18},{"m":"A","g":1,"v":16.8},{"m":"A","g":1,"v":16.5},{"m":"A","g":1,"v":15.8},{"m":"A","g":1,"v":15.5},{"m":"A","g":1,"v":15.2},{"m":"A","g":1,"v":14.5},{"m":"A","g":1,"v":13.8},{"m":"A","g":1,"v":12.8},{"m":"A","g":1,"v":12},
    {"m":"A","g":2,"v":21.3},{"m":"A","g":2,"v":21},{"m":"A","g":2,"v":20.5},{"m":"A","g":2,"v":19.8},{"m":"A","g":2,"v":19},{"m":"A","g":2,"v":18.5},{"m":"A","g":2,"v":18},{"m":"A","g":2,"v":17.5},{"m":"A","g":2,"v":16.5},{"m":"A","g":2,"v":14.2},{"m":"A","g":2,"v":13.8},{"m":"A","g":2,"v":13.1},{"m":"A","g":2,"v":10.4},
    {"m":"A","g":3,"v":22.2},{"m":"A","g":3,"v":21.2},{"m":"A","g":3,"v":18.5},{"m":"A","g":3,"v":18.3},{"m":"A","g":3,"v":18},{"m":"A","g":3,"v":16},{"m":"A","g":3,"v":15.8},{"m":"A","g":3,"v":15.5},{"m":"A","g":3,"v":13},{"m":"A","g":3,"v":12.8},{"m":"A","g":3,"v":12.1},
    {"m":"A","g":4,"v":20.7},{"m":"A","g":4,"v":19.2},{"m":"A","g":4,"v":18.5},{"m":"A","g":4,"v":17.5},{"m":"A","g":4,"v":16.5},{"m":"A","g":4,"v":15.8},{"m":"A","g":4,"v":15.3},{"m":"A","g":4,"v":15},{"m":"A","g":4,"v":14.2},{"m":"A","g":4,"v":13.8},{"m":"A","g":4,"v":13},{"m":"A","g":4,"v":12.2},{"m":"A","g":4,"v":12},{"m":"A","g":4,"v":11.9},
    {"m":"L","g":1,"v":21.6},{"m":"L","g":1,"v":20.6},{"m":"L","g":1,"v":20.3},{"m":"L","g":1,"v":18.6},{"m":"L","g":1,"v":18.3},{"m":"L","g":1,"v":18},{"m":"L","g":1,"v":17.8},{"m":"L","g":1,"v":17.5},{"m":"L","g":1,"v":17.3},{"m":"L","g":1,"v":15},{"m":"L","g":1,"v":14.1},
    {"m":"L","g":2,"v":22},{"m":"L","g":2,"v":21.5},{"m":"L","g":2,"v":20.5},{"m":"L","g":2,"v":20},{"m":"L","g":2,"v":19},{"m":"L","g":2,"v":18.5},{"m":"L","g":2,"v":18},{"m":"L","g":2,"v":17.5},{"m":"L","g":2,"v":17},{"m":"L","g":2,"v":16.3},{"m":"L","g":2,"v":15},
    {"m":"L","g":3,"v":19.4},{"m":"L","g":3,"v":19},{"m":"L","g":3,"v":18.7},{"m":"L","g":3,"v":18.4},{"m":"L","g":3,"v":18},{"m":"L","g":3,"v":17.5},{"m":"L","g":3,"v":17},{"m":"L","g":3,"v":16.5},{"m":"L","g":3,"v":16},{"m":"L","g":3,"v":15.5},{"m":"L","g":3,"v":15},{"m":"L","g":3,"v":14.5},{"m":"L","g":3,"v":14},{"m":"L","g":3,"v":13.5},
    {"m":"L","g":4,"v":27.6},{"m":"L","g":4,"v":22.5},{"m":"L","g":4,"v":22},{"m":"L","g":4,"v":21.5},{"m":"L","g":4,"v":20.8},{"m":"L","g":4,"v":18.5},{"m":"L","g":4,"v":18},{"m":"L","g":4,"v":17.5},{"m":"L","g":4,"v":17},{"m":"L","g":4,"v":16.8},{"m":"L","g":4,"v":15.6},{"m":"L","g":4,"v":14.2},
    {"m":"S","g":1,"v":21},{"m":"S","g":1,"v":20.5},{"m":"S","g":1,"v":20},{"m":"S","g":1,"v":19.7},{"m":"S","g":1,"v":19.3},{"m":"S","g":1,"v":19},{"m":"S","g":1,"v":18.7},{"m":"S","g":1,"v":18.4},{"m":"S","g":1,"v":18.1},{"m":"S","g":1,"v":17.5},{"m":"S","g":1,"v":17},{"m":"S","g":1,"v":16.6},
    {"m":"S","g":2,"v":18.9},{"m":"S","g":2,"v":18.8},{"m":"S","g":2,"v":18.5},{"m":"S","g":2,"v":18.2},{"m":"S","g":2,"v":18},{"m":"S","g":2,"v":17.8},{"m":"S","g":2,"v":17.5},{"m":"S","g":2,"v":17.2},{"m":"S","g":2,"v":17},{"m":"S","g":2,"v":16.5},{"m":"S","g":2,"v":16},{"m":"S","g":2,"v":12.8},
    {"m":"S","g":3,"v":18.9},{"m":"S","g":3,"v":18.7},{"m":"S","g":3,"v":18.3},{"m":"S","g":3,"v":18},{"m":"S","g":3,"v":17.5},{"m":"S","g":3,"v":17},{"m":"S","g":3,"v":16.5},{"m":"S","g":3,"v":16.2},{"m":"S","g":3,"v":15.8},{"m":"S","g":3,"v":15.5},{"m":"S","g":3,"v":15.2},{"m":"S","g":3,"v":14.8},{"m":"S","g":3,"v":13.7},
    {"m":"S","g":4,"v":27.3},{"m":"S","g":4,"v":21.2},{"m":"S","g":4,"v":20.8},{"m":"S","g":4,"v":20.3},{"m":"S","g":4,"v":20},{"m":"S","g":4,"v":19.8},{"m":"S","g":4,"v":19.5},{"m":"S","g":4,"v":19.3},{"m":"S","g":4,"v":18.5},{"m":"S","g":4,"v":18.1},{"m":"S","g":4,"v":16.3},{"m":"S","g":4,"v":15.3},
    {"m":"G","g":1,"v":21.4},{"m":"G","g":1,"v":20.7},{"m":"G","g":1,"v":19.8},{"m":"G","g":1,"v":18.3},{"m":"G","g":1,"v":18},{"m":"G","g":1,"v":17.5},{"m":"G","g":1,"v":17.2},{"m":"G","g":1,"v":17},{"m":"G","g":1,"v":16.5},{"m":"G","g":1,"v":16.2},{"m":"G","g":1,"v":16},{"m":"G","g":1,"v":15},
    {"m":"G","g":2,"v":20.3},{"m":"G","g":2,"v":20},{"m":"G","g":2,"v":19.4},{"m":"G","g":2,"v":18.9},{"m":"G","g":2,"v":18.5},{"m":"G","g":2,"v":17.5},{"m":"G","g":2,"v":17},{"m":"G","g":2,"v":16.5},{"m":"G","g":2,"v":16},{"m":"G","g":2,"v":15.5},{"m":"G","g":2,"v":15},{"m":"G","g":2,"v":14.6},{"m":"G","g":2,"v":14.3},
    {"m":"G","g":3,"v":21.6},{"m":"G","g":3,"v":18.6},{"m":"G","g":3,"v":17.7},{"m":"G","g":3,"v":17.2},{"m":"G","g":3,"v":16.8},{"m":"G","g":3,"v":16.5},{"m":"G","g":3,"v":16.2},{"m":"G","g":3,"v":16},{"m":"G","g":3,"v":15.5},{"m":"G","g":3,"v":15.2},{"m":"G","g":3,"v":14.9},{"m":"G","g":3,"v":13.5},{"m":"G","g":3,"v":12.3},
    {"m":"G","g":4,"v":23.4},{"m":"G","g":4,"v":21.5},{"m":"G","g":4,"v":21.3},{"m":"G","g":4,"v":20.5},{"m":"G","g":4,"v":20},{"m":"G","g":4,"v":19.5},{"m":"G","g":4,"v":19.3},{"m":"G","g":4,"v":19},{"m":"G","g":4,"v":18.5},{"m":"G","g":4,"v":17},{"m":"G","g":4,"v":16.5},{"m":"G","g":4,"v":15.8},{"m":"G","g":4,"v":14.4},{"m":"G","g":4,"v":14.2}],
  "ann_e": [{"m":"S","g":3,"v":20,"t":"†"},{"m":"S","g":4,"v":28.4,"t":"§"},{"m":"G","g":4,"v":24.6,"t":"§"}],
  "sig_e": [{"m":"A","v":8.27,"t":"n.s."},{"m":"L","v":8.27,"t":"n.s."},{"m":"S","v":8.27,"t":"**"},{"m":"G","v":8.27,"t":"*"}]
},
"spacing": 8,
"vconcat": [
{"spacing": 12, "hconcat": [
 {"bounds": "flush", "spacing": 0, "vconcat": [
  {"width": 221, "height": 180, "title": {"text": "a", "dx": -4},
   "encoding": {"x": {"field": "m", "type": "nominal", "scale": {"domain": ["A","L","S","G"], "paddingInner": 0, "paddingOuter": 0}, "axis": null}},
   "layer": [
    {"data": {"name": "box_a"}, "mark": {"type": "rule", "strokeOpacity": 0.55}, "encoding": {"xOffset": {"field": "g", "type": "nominal", "scale": {"domain": [1,2,3,4], "paddingInner": 0.1, "paddingOuter": 0.5}}, "y": {"field": "lo", "type": "quantitative", "scale": {"domain": [0, 60], "nice": false, "zero": false}, "axis": {"values": [0,20,40,60], "title": "ASL - Blood flow (ml/100g/min)"}}, "y2": {"field": "hi"},
      "color": {"field": "g", "type": "nominal", "scale": {"domain": [1,2,3,4], "range": ["#ff0000","#00e600","#0000ff","#ff00ff"]}, "legend": null}}},
    {"data": {"name": "box_a"}, "mark": {"type": "bar", "fill": "white", "strokeOpacity": 0.55, "strokeWidth": 1}, "encoding": {"xOffset": {"field": "g", "type": "nominal", "scale": {"domain": [1,2,3,4], "paddingInner": 0.1, "paddingOuter": 0.5}}, "y": {"field": "q1", "type": "quantitative", "scale": {"domain": [0, 60], "nice": false, "zero": false}}, "y2": {"field": "q3"},
      "stroke": {"field": "g", "type": "nominal", "scale": {"domain": [1,2,3,4,5], "range": ["#ff0000","#00e600","#0000ff","#ff00ff","#000000"]},
        "legend": {"values": [1,2,3,4], "orient": "none", "legendX": 555.5, "legendY": 256.5, "title": null, "symbolType": "M-2,-1H2V1H-2Z", "symbolSize": 169, "symbolStrokeWidth": 1, "symbolFillColor": "white", "labelExpr": "datum.label + ' (25%~75%)'", "labelFontSize": 12.5, "labelColor": "#111", "labelOffset": 9.5, "rowPadding": -8.2}}}},
    {"data": {"name": "box_a"}, "mark": {"type": "tick", "size": 10, "thickness": 1, "opacity": 0.55}, "encoding": {"xOffset": {"field": "g", "type": "nominal", "scale": {"domain": [1,2,3,4], "paddingInner": 0.1, "paddingOuter": 0.5}}, "y": {"field": "med", "type": "quantitative", "scale": {"domain": [0, 60], "nice": false, "zero": false}}, "color": {"field": "g", "type": "nominal", "legend": null}}},
    {"data": {"name": "pts_a"}, "mark": {"type": "point", "shape": "cross", "filled": true, "size": 24, "opacity": 1}, "encoding": {"xOffset": {"field": "g", "type": "nominal", "scale": {"domain": [1,2,3,4], "paddingInner": 0.1, "paddingOuter": 0.5}}, "y": {"field": "v", "type": "quantitative", "scale": {"domain": [0, 60], "nice": false, "zero": false}}, "color": {"field": "g", "type": "nominal", "legend": null}}},
    {"data": {"name": "ann_a"}, "mark": {"type": "text", "fontSize": 8, "color": "#444"}, "encoding": {"xOffset": {"field": "g", "type": "nominal", "scale": {"domain": [1,2,3,4], "paddingInner": 0.1, "paddingOuter": 0.5}}, "y": {"field": "v", "type": "quantitative", "scale": {"domain": [0, 60], "nice": false, "zero": false}}, "text": {"field": "t"}}},
    {"data": {"name": "sig_a"}, "mark": {"type": "tick", "size": 42, "thickness": 1, "color": "#555"}, "encoding": {"y": {"field": "v", "type": "quantitative", "scale": {"domain": [0, 60], "nice": false, "zero": false}}}},
    {"data": {"name": "sig_a"}, "mark": {"type": "text", "fontSize": 7, "color": "#444", "baseline": "bottom", "dy": -1}, "encoding": {"y": {"field": "v", "type": "quantitative", "scale": {"domain": [0, 60], "nice": false, "zero": false}}, "text": {"field": "t"}}}
   ]},
  {"width": 221, "height": 11, "data": {"name": "cells"},
   "encoding": {"x": {"field": "k", "type": "nominal", "sort": null, "scale": {"paddingInner": 0, "paddingOuter": 0}, "axis": null}},
   "layer": [
    {"mark": {"type": "rect", "filled": false, "color": "#333", "strokeWidth": 1}},
    {"mark": {"type": "text", "fontSize": 9, "color": "#111"}, "encoding": {"text": {"field": "g"}}}
   ]},
  {"width": 221, "height": 13, "data": {"name": "muscles"},
   "title": {"text": "d", "orient": "bottom", "anchor": "start", "frame": "bounds", "dx": -36, "offset": -29, "baseline": "top"},
   "encoding": {"x": {"field": "m", "type": "nominal", "scale": {"domain": ["A","L","S","G"], "paddingInner": 0, "paddingOuter": 0}, "axis": null}},
   "layer": [
    {"mark": {"type": "rect", "filled": false, "color": "#333", "strokeWidth": 1}},
    {"mark": {"type": "text", "fontSize": 8.5, "color": "#111"}, "encoding": {"text": {"field": "name"}}}
   ]}
 ]},
 {"spacing": -2, "hconcat": [
 {"bounds": "flush", "spacing": 0, "vconcat": [
  {"width": 221, "height": 180, "title": {"text": "b", "dx": -2},
   "encoding": {"x": {"field": "m", "type": "nominal", "scale": {"domain": ["A","L","S","G"], "paddingInner": 0, "paddingOuter": 0}, "axis": null}},
   "layer": [
    {"data": {"name": "box_b"}, "mark": {"type": "rule", "strokeOpacity": 0.55}, "encoding": {"xOffset": {"field": "g", "type": "nominal", "scale": {"domain": [1,2,3,4], "paddingInner": 0.1, "paddingOuter": 0.5}}, "y": {"field": "lo", "type": "quantitative", "scale": {"domain": [15, 32.3], "nice": false, "zero": false}, "axis": {"values": [15,20,25,30], "title": "BOLD - T2* (msec)"}}, "y2": {"field": "hi"}, "color": {"field": "g", "type": "nominal", "legend": null}}},
    {"data": {"name": "box_b"}, "mark": {"type": "bar", "fill": "white", "strokeOpacity": 0.55, "strokeWidth": 1}, "encoding": {"xOffset": {"field": "g", "type": "nominal", "scale": {"domain": [1,2,3,4], "paddingInner": 0.1, "paddingOuter": 0.5}}, "y": {"field": "q1", "type": "quantitative", "scale": {"domain": [15, 32.3], "nice": false, "zero": false}}, "y2": {"field": "q3"}, "stroke": {"field": "g", "type": "nominal"}}},
    {"data": {"name": "box_b"}, "mark": {"type": "tick", "size": 10, "thickness": 1, "opacity": 0.55}, "encoding": {"xOffset": {"field": "g", "type": "nominal", "scale": {"domain": [1,2,3,4], "paddingInner": 0.1, "paddingOuter": 0.5}}, "y": {"field": "med", "type": "quantitative", "scale": {"domain": [15, 32.3], "nice": false, "zero": false}}, "color": {"field": "g", "type": "nominal", "legend": null}}},
    {"data": {"name": "pts_b"}, "mark": {"type": "point", "shape": "cross", "filled": true, "size": 24, "opacity": 1}, "encoding": {"xOffset": {"field": "g", "type": "nominal", "scale": {"domain": [1,2,3,4], "paddingInner": 0.1, "paddingOuter": 0.5}}, "y": {"field": "v", "type": "quantitative", "scale": {"domain": [15, 32.3], "nice": false, "zero": false}}, "color": {"field": "g", "type": "nominal", "legend": null}}},
    {"data": {"name": "ann_b"}, "mark": {"type": "text", "fontSize": 8, "color": "#444"}, "encoding": {"xOffset": {"field": "g", "type": "nominal", "scale": {"domain": [1,2,3,4], "paddingInner": 0.1, "paddingOuter": 0.5}}, "y": {"field": "v", "type": "quantitative", "scale": {"domain": [15, 32.3], "nice": false, "zero": false}}, "text": {"field": "t"}}},
    {"data": {"name": "sig_b"}, "mark": {"type": "tick", "size": 42, "thickness": 1, "color": "#555"}, "encoding": {"y": {"field": "v", "type": "quantitative", "scale": {"domain": [15, 32.3], "nice": false, "zero": false}}}},
    {"data": {"name": "sig_b"}, "mark": {"type": "text", "fontSize": 7, "color": "#444", "baseline": "bottom", "dy": -1}, "encoding": {"y": {"field": "v", "type": "quantitative", "scale": {"domain": [15, 32.3], "nice": false, "zero": false}}, "text": {"field": "t"}}}
   ]},
  {"width": 221, "height": 11, "data": {"name": "cells"},
   "encoding": {"x": {"field": "k", "type": "nominal", "sort": null, "scale": {"paddingInner": 0, "paddingOuter": 0}, "axis": null}},
   "layer": [
    {"mark": {"type": "rect", "filled": false, "color": "#333", "strokeWidth": 1}},
    {"mark": {"type": "text", "fontSize": 9, "color": "#111"}, "encoding": {"text": {"field": "g"}}}
   ]},
  {"width": 221, "height": 13, "data": {"name": "muscles"},
   "title": {"text": "e", "orient": "bottom", "anchor": "start", "frame": "bounds", "dx": -28, "offset": -29, "baseline": "top"},
   "encoding": {"x": {"field": "m", "type": "nominal", "scale": {"domain": ["A","L","S","G"], "paddingInner": 0, "paddingOuter": 0}, "axis": null}},
   "layer": [
    {"mark": {"type": "rect", "filled": false, "color": "#333", "strokeWidth": 1}},
    {"mark": {"type": "text", "fontSize": 8.5, "color": "#111"}, "encoding": {"text": {"field": "name"}}}
   ]}
 ]},
 {"bounds": "flush", "spacing": 0, "vconcat": [
  {"width": 221, "height": 180, "title": {"text": "c"},
   "encoding": {"x": {"field": "m", "type": "nominal", "scale": {"domain": ["A","L","S","G"], "paddingInner": 0, "paddingOuter": 0}, "axis": null}},
   "layer": [
    {"data": {"name": "box_c"}, "mark": {"type": "rule", "strokeOpacity": 0.55}, "encoding": {"xOffset": {"field": "g", "type": "nominal", "scale": {"domain": [1,2,3,4], "paddingInner": 0.1, "paddingOuter": 0.5}}, "y": {"field": "lo", "type": "quantitative", "scale": {"domain": [1, 11], "nice": false, "zero": false}, "axis": {"values": [2,4,6,8,10], "title": "IVIM - f (%)"}}, "y2": {"field": "hi"}, "color": {"field": "g", "type": "nominal", "legend": null}}},
    {"data": {"name": "box_c"}, "mark": {"type": "bar", "fill": "white", "strokeOpacity": 0.55, "strokeWidth": 1}, "encoding": {"xOffset": {"field": "g", "type": "nominal", "scale": {"domain": [1,2,3,4], "paddingInner": 0.1, "paddingOuter": 0.5}}, "y": {"field": "q1", "type": "quantitative", "scale": {"domain": [1, 11], "nice": false, "zero": false}}, "y2": {"field": "q3"}, "stroke": {"field": "g", "type": "nominal"}}},
    {"data": {"name": "box_c"}, "mark": {"type": "tick", "size": 10, "thickness": 1, "opacity": 0.55}, "encoding": {"xOffset": {"field": "g", "type": "nominal", "scale": {"domain": [1,2,3,4], "paddingInner": 0.1, "paddingOuter": 0.5}}, "y": {"field": "med", "type": "quantitative", "scale": {"domain": [1, 11], "nice": false, "zero": false}}, "color": {"field": "g", "type": "nominal", "legend": null}}},
    {"data": {"name": "pts_c"}, "mark": {"type": "point", "shape": "cross", "filled": true, "size": 24, "opacity": 1}, "encoding": {"xOffset": {"field": "g", "type": "nominal", "scale": {"domain": [1,2,3,4], "paddingInner": 0.1, "paddingOuter": 0.5}}, "y": {"field": "v", "type": "quantitative", "scale": {"domain": [1, 11], "nice": false, "zero": false}}, "color": {"field": "g", "type": "nominal", "legend": null}}},
    {"data": {"name": "ann_c"}, "mark": {"type": "text", "fontSize": 8, "color": "#444"}, "encoding": {"xOffset": {"field": "g", "type": "nominal", "scale": {"domain": [1,2,3,4], "paddingInner": 0.1, "paddingOuter": 0.5}}, "y": {"field": "v", "type": "quantitative", "scale": {"domain": [1, 11], "nice": false, "zero": false}}, "text": {"field": "t"}}},
    {"data": {"name": "sig_c"}, "mark": {"type": "tick", "size": 42, "thickness": 1, "color": "#555"}, "encoding": {"y": {"field": "v", "type": "quantitative", "scale": {"domain": [1, 11], "nice": false, "zero": false}}}},
    {"data": {"name": "sig_c"}, "mark": {"type": "text", "fontSize": 7, "color": "#444", "baseline": "bottom", "dy": -1}, "encoding": {"y": {"field": "v", "type": "quantitative", "scale": {"domain": [1, 11], "nice": false, "zero": false}}, "text": {"field": "t"}}}
   ]},
  {"width": 221, "height": 11, "data": {"name": "cells"},
   "encoding": {"x": {"field": "k", "type": "nominal", "sort": null, "scale": {"paddingInner": 0, "paddingOuter": 0}, "axis": null}},
   "layer": [
    {"mark": {"type": "rect", "filled": false, "color": "#333", "strokeWidth": 1}},
    {"mark": {"type": "text", "fontSize": 9, "color": "#111"}, "encoding": {"text": {"field": "g"}}}
   ]},
  {"width": 221, "height": 13, "data": {"name": "muscles"},
   "encoding": {"x": {"field": "m", "type": "nominal", "scale": {"domain": ["A","L","S","G"], "paddingInner": 0, "paddingOuter": 0}, "axis": null}},
   "layer": [
    {"mark": {"type": "rect", "filled": false, "color": "#333", "strokeWidth": 1}},
    {"mark": {"type": "text", "fontSize": 8.5, "color": "#111"}, "encoding": {"text": {"field": "name"}}}
   ]}
 ]}
 ]}
]},
{"spacing": 12, "hconcat": [
 {"bounds": "flush", "spacing": 0, "vconcat": [
  {"width": 221, "height": 178,
   "encoding": {"x": {"field": "m", "type": "nominal", "scale": {"domain": ["A","L","S","G"], "paddingInner": 0, "paddingOuter": 0}, "axis": null}},
   "layer": [
    {"data": {"name": "box_d"}, "mark": {"type": "rule", "strokeOpacity": 0.55}, "encoding": {"xOffset": {"field": "g", "type": "nominal", "scale": {"domain": [1,2,3,4], "paddingInner": 0.1, "paddingOuter": 0.5}}, "y": {"field": "lo", "type": "quantitative", "scale": {"domain": [0.91, 2.0], "nice": false, "zero": false}, "axis": {"values": [1.0,1.2,1.4,1.6,1.8,2.0], "format": ".1f", "title": "IVIM - D (×10⁻³ mm²/sec)"}}, "y2": {"field": "hi"}, "color": {"field": "g", "type": "nominal", "legend": null}}},
    {"data": {"name": "box_d"}, "mark": {"type": "bar", "fill": "white", "strokeOpacity": 0.55, "strokeWidth": 1}, "encoding": {"xOffset": {"field": "g", "type": "nominal", "scale": {"domain": [1,2,3,4], "paddingInner": 0.1, "paddingOuter": 0.5}}, "y": {"field": "q1", "type": "quantitative", "scale": {"domain": [0.91, 2.0], "nice": false, "zero": false}}, "y2": {"field": "q3"}, "stroke": {"field": "g", "type": "nominal"}}},
    {"data": {"name": "box_d"}, "mark": {"type": "tick", "size": 10, "thickness": 1, "opacity": 0.55}, "encoding": {"xOffset": {"field": "g", "type": "nominal", "scale": {"domain": [1,2,3,4], "paddingInner": 0.1, "paddingOuter": 0.5}}, "y": {"field": "med", "type": "quantitative", "scale": {"domain": [0.91, 2.0], "nice": false, "zero": false}}, "color": {"field": "g", "type": "nominal", "legend": null}}},
    {"data": {"name": "pts_d"}, "mark": {"type": "point", "shape": "cross", "filled": true, "size": 24, "opacity": 1}, "encoding": {"xOffset": {"field": "g", "type": "nominal", "scale": {"domain": [1,2,3,4], "paddingInner": 0.1, "paddingOuter": 0.5}}, "y": {"field": "v", "type": "quantitative", "scale": {"domain": [0.91, 2.0], "nice": false, "zero": false}}, "color": {"field": "g", "type": "nominal", "legend": null}}},
    {"data": {"name": "ann_d"}, "mark": {"type": "text", "fontSize": 8, "color": "#444"}, "encoding": {"xOffset": {"field": "g", "type": "nominal", "scale": {"domain": [1,2,3,4], "paddingInner": 0.1, "paddingOuter": 0.5}}, "y": {"field": "v", "type": "quantitative", "scale": {"domain": [0.91, 2.0], "nice": false, "zero": false}}, "text": {"field": "t"}}},
    {"data": {"name": "sig_d"}, "mark": {"type": "tick", "size": 42, "thickness": 1, "color": "#555"}, "encoding": {"y": {"field": "v", "type": "quantitative", "scale": {"domain": [0.91, 2.0], "nice": false, "zero": false}}}},
    {"data": {"name": "sig_d"}, "mark": {"type": "text", "fontSize": 7, "color": "#444", "baseline": "bottom", "dy": -1}, "encoding": {"y": {"field": "v", "type": "quantitative", "scale": {"domain": [0.91, 2.0], "nice": false, "zero": false}}, "text": {"field": "t"}}}
   ]},
  {"width": 221, "height": 11, "data": {"name": "cells"},
   "encoding": {"x": {"field": "k", "type": "nominal", "sort": null, "scale": {"paddingInner": 0, "paddingOuter": 0}, "axis": null}},
   "layer": [
    {"mark": {"type": "rect", "filled": false, "color": "#333", "strokeWidth": 1}},
    {"mark": {"type": "text", "fontSize": 9, "color": "#111"}, "encoding": {"text": {"field": "g"}}}
   ]},
  {"width": 221, "height": 13, "data": {"name": "muscles"},
   "encoding": {"x": {"field": "m", "type": "nominal", "scale": {"domain": ["A","L","S","G"], "paddingInner": 0, "paddingOuter": 0}, "axis": null}},
   "layer": [
    {"mark": {"type": "rect", "filled": false, "color": "#333", "strokeWidth": 1}},
    {"mark": {"type": "text", "fontSize": 8.5, "color": "#111"}, "encoding": {"text": {"field": "name"}}}
   ]}
 ]},
 {"bounds": "flush", "spacing": 0, "vconcat": [
  {"width": 221, "height": 178,
   "encoding": {"x": {"field": "m", "type": "nominal", "scale": {"domain": ["A","L","S","G"], "paddingInner": 0, "paddingOuter": 0}, "axis": null}},
   "layer": [
    {"data": {"name": "box_e"}, "mark": {"type": "rule", "strokeOpacity": 0.55}, "encoding": {"xOffset": {"field": "g", "type": "nominal", "scale": {"domain": [1,2,3,4], "paddingInner": 0.1, "paddingOuter": 0.5}}, "y": {"field": "lo", "type": "quantitative", "scale": {"domain": [7.5, 30], "nice": false, "zero": false}, "axis": {"values": [10,15,20,25,30], "title": "IVIM - D* (×10⁻³ mm²/sec)"}}, "y2": {"field": "hi"}, "color": {"field": "g", "type": "nominal", "legend": null}}},
    {"data": {"name": "box_e"}, "mark": {"type": "bar", "fill": "white", "strokeOpacity": 0.55, "strokeWidth": 1}, "encoding": {"xOffset": {"field": "g", "type": "nominal", "scale": {"domain": [1,2,3,4], "paddingInner": 0.1, "paddingOuter": 0.5}}, "y": {"field": "q1", "type": "quantitative", "scale": {"domain": [7.5, 30], "nice": false, "zero": false}}, "y2": {"field": "q3"}, "stroke": {"field": "g", "type": "nominal"}}},
    {"data": {"name": "box_e"}, "mark": {"type": "tick", "size": 10, "thickness": 1, "opacity": 0.55}, "encoding": {"xOffset": {"field": "g", "type": "nominal", "scale": {"domain": [1,2,3,4], "paddingInner": 0.1, "paddingOuter": 0.5}}, "y": {"field": "med", "type": "quantitative", "scale": {"domain": [7.5, 30], "nice": false, "zero": false}}, "color": {"field": "g", "type": "nominal", "legend": null}}},
    {"data": {"name": "box_e"}, "mark": {"type": "point", "opacity": 0, "size": 10}, "encoding": {"xOffset": {"field": "g", "type": "nominal", "scale": {"domain": [1,2,3,4], "paddingInner": 0.1, "paddingOuter": 0.5}}, "y": {"field": "med", "type": "quantitative", "scale": {"domain": [7.5, 30], "nice": false, "zero": false}},
      "shape": {"datum": "Median Line", "type": "nominal", "scale": {"domain": ["Range within 1.5IQR", "Median Line"], "range": ["M-0.5,-0.75H0.5M0,-0.75V0.75M-0.5,0.75H0.5", "M-1,0H1"]},
        "legend": {"orient": "none", "legendX": 554.5, "legendY": 316.5, "title": null, "symbolSize": 225, "symbolStrokeColor": "#ff6060", "symbolFillColor": "transparent", "symbolStrokeWidth": 1.2, "symbolOpacity": 1, "labelFontSize": 12.5, "labelColor": "#111", "labelOffset": 9.5, "rowPadding": 0,
          "encode": {"symbols": {"update": {"stroke": {"value": "#ff6060"}, "strokeOpacity": {"value": 1}, "opacity": {"value": 1}}}}}}}},
    {"data": {"name": "pts_e"}, "mark": {"type": "point", "shape": "cross", "filled": true, "size": 24, "opacity": 1}, "encoding": {"xOffset": {"field": "g", "type": "nominal", "scale": {"domain": [1,2,3,4], "paddingInner": 0.1, "paddingOuter": 0.5}}, "y": {"field": "v", "type": "quantitative", "scale": {"domain": [7.5, 30], "nice": false, "zero": false}}, "color": {"field": "g", "type": "nominal", "legend": null}}},
    {"data": {"name": "ann_e"}, "mark": {"type": "text", "fontSize": 8, "color": "#444"}, "encoding": {"xOffset": {"field": "g", "type": "nominal", "scale": {"domain": [1,2,3,4], "paddingInner": 0.1, "paddingOuter": 0.5}}, "y": {"field": "v", "type": "quantitative", "scale": {"domain": [7.5, 30], "nice": false, "zero": false}}, "text": {"field": "t"}}},
    {"data": {"name": "sig_e"}, "mark": {"type": "tick", "size": 42, "thickness": 1, "color": "#555"}, "encoding": {"y": {"field": "v", "type": "quantitative", "scale": {"domain": [7.5, 30], "nice": false, "zero": false}}}},
    {"data": {"name": "sig_e"}, "mark": {"type": "text", "fontSize": 7, "color": "#444", "baseline": "bottom", "dy": -1}, "encoding": {"y": {"field": "v", "type": "quantitative", "scale": {"domain": [7.5, 30], "nice": false, "zero": false}}, "text": {"field": "t"}}}
   ]},
  {"width": 221, "height": 11, "data": {"name": "cells"},
   "encoding": {"x": {"field": "k", "type": "nominal", "sort": null, "scale": {"paddingInner": 0, "paddingOuter": 0}, "axis": null}},
   "layer": [
    {"mark": {"type": "rect", "filled": false, "color": "#333", "strokeWidth": 1}},
    {"mark": {"type": "text", "fontSize": 9, "color": "#111"}, "encoding": {"text": {"field": "g"}}}
   ]},
  {"width": 221, "height": 13, "data": {"name": "muscles"},
   "encoding": {"x": {"field": "m", "type": "nominal", "scale": {"domain": ["A","L","S","G"], "paddingInner": 0, "paddingOuter": 0}, "axis": null}},
   "layer": [
    {"mark": {"type": "rect", "filled": false, "color": "#333", "strokeWidth": 1}},
    {"mark": {"type": "text", "fontSize": 8.5, "color": "#111"}, "encoding": {"text": {"field": "name"}}}
   ]}
 ]}
]}
]
}
